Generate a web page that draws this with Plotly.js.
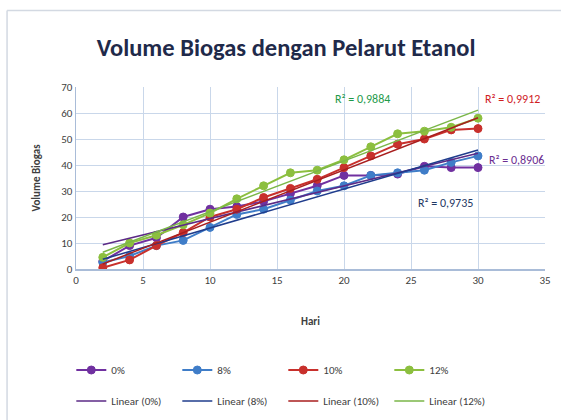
<!DOCTYPE html>
<html>
<head>
<meta charset="utf-8">
<script src="https://cdn.plot.ly/plotly-3.0.1.min.js"></script>
<style>html,body{margin:0;padding:0;background:#fff;} #chart{width:561px;height:420px;}</style>
</head>
<body>
<div id="chart"></div>
<script>
// Data
const hari = [2, 4, 6, 8, 10, 12, 14, 16, 18, 20, 22, 24, 26, 28, 30];
const seriesNames = ["0%", "8%", "10%", "12%"];
const v0  = [3, 9, 12, 20, 23, 24, 26, 29, 32, 36, 36, 36.5, 39.5, 39, 39];
const v8  = [2.5, 5, 9, 11, 16, 21, 23, 26.5, 30, 32, 36, 37, 38, 41, 43.5];
const v10 = [0.5, 3.5, 9, 14, 20, 23, 27.5, 31, 34.5, 39, 43.5, 48, 50, 53.5, 54];
const v12 = [4.5, 10, 13, 17, 21.5, 27, 32, 37, 38, 42, 47, 52, 53, 54.5, 58];
const r2Labels = ["R² = 0,8906", "R² = 0,9735", "R² = 0,9912", "R² = 0,9884"];
const xTicks = [0, 5, 10, 15, 20, 25, 30, 35];
const yTicks = [0, 10, 20, 30, 40, 50, 60, 70];

const seriesColors = ["#7030A0", "#3F7DC8", "#C8302C", "#8CBF3F"];
const trendColors  = ["#5B2A86", "#1F3C8C", "#A81E1E", "#7AB648"];
const r2Colors     = ["#6B2E91", "#1F3864", "#D0201E", "#1E9A4A"];

function linFit(x, y) {
  const n = x.length;
  const mx = x.reduce((a, b) => a + b, 0) / n;
  const my = y.reduce((a, b) => a + b, 0) / n;
  let sxy = 0, sxx = 0;
  for (let i = 0; i < n; i++) { sxy += (x[i] - mx) * (y[i] - my); sxx += (x[i] - mx) ** 2; }
  const b = sxy / sxx, a = my - b * mx;
  return x.map(v => a + b * v);
}

const allVals = [v0, v8, v10, v12];
const traces = [];
allVals.forEach((v, i) => {
  traces.push({
    x: hari, y: v, name: seriesNames[i], type: "scatter", mode: "lines+markers", legend: "legend",
    line: {color: seriesColors[i], width: 2},
    marker: {color: seriesColors[i], size: 8, line: {color: seriesColors[i], width: 1}}
  });
});
allVals.forEach((v, i) => {
  traces.push({
    x: hari, y: linFit(hari, v), name: "Linear (" + seriesNames[i] + ")", type: "scatter", mode: "lines", legend: "legend2",
    line: {color: trendColors[i], width: 1.5}
  });
});

const font = "Calibri, 'Liberation Sans Narrow', 'Open Sans', sans-serif";
const annPos = [
  {x: 30.7, y: 42, xanchor: "left"},
  {x: 25.4, y: 25.3, xanchor: "left"},
  {x: 30.4, y: 65.4, xanchor: "left"},
  {x: 19.2, y: 65.4, xanchor: "left"}
];
const annotations = r2Labels.map((t, i) => ({
  x: annPos[i].x, y: annPos[i].y, xref: "x", yref: "y", xanchor: annPos[i].xanchor, yanchor: "middle",
  text: t, showarrow: false, font: {family: font, size: 12, color: r2Colors[i]}
}));

const legendCommon = {
  orientation: "h", x: -0.01, xanchor: "left", yanchor: "middle",
  entrywidth: 61, entrywidthmode: "pixels",
  font: {family: font, size: 11, color: "#404040"}, itemwidth: 30, bgcolor: "rgba(0,0,0,0)"
};

const layout = {
  width: 561, height: 420,
  margin: {l: 76, r: 16, t: 87, b: 151, autoexpand: false},
  paper_bgcolor: "#ffffff", plot_bgcolor: "#ffffff",
  font: {family: font, size: 11, color: "#404040"},
  title: {text: "<b>Volume Biogas dengan Pelarut Etanol</b>", x: 0.448, xref: "paper", xanchor: "center", y: 0.888, yanchor: "middle",
          font: {family: font, size: 24.5, color: "#1F2A4A"}},
  xaxis: {
    range: [0, 35], tickvals: xTicks, ticktext: xTicks.map(String),
    showgrid: true, gridcolor: "#C9D7EA", gridwidth: 1,
    showline: true, linecolor: "#A9BCD8", linewidth: 1.5, zeroline: false,
    ticks: "", tickfont: {size: 11, color: "#404040"}, automargin: false,
    title: {text: "<b>Hari</b>", font: {size: 11, color: "#404040"}, standoff: 31}
  },
  yaxis: {
    range: [0, 70], tickvals: yTicks, ticktext: yTicks.map(String),
    showgrid: true, gridcolor: "#C9D7EA", gridwidth: 1,
    showline: true, linecolor: "#A9BCD8", linewidth: 1.5, zeroline: false,
    ticks: "", tickfont: {size: 11, color: "#404040"}, automargin: false,
    title: {text: "<b>Volume Biogas</b>", font: {size: 11, color: "#404040"}, standoff: 18}
  },
  legend: Object.assign({}, legendCommon, {y: -0.555}),
  legend2: Object.assign({}, legendCommon, {y: -0.725}),
  annotations: annotations,
  shapes: [
    {type: "line", xref: "paper", yref: "paper", x0: -0.147, x1: -0.147, y0: 1.42, y1: -1.0, line: {color: "#D3D9E2", width: 1.5}},
    {type: "line", xref: "paper", yref: "paper", x0: -0.147, x1: 1.05, y0: 1.42, y1: 1.42, line: {color: "#D3D9E2", width: 1.5}}
  ],
  showlegend: true
};

Plotly.newPlot("chart", traces, layout, {displayModeBar: false, staticPlot: true});
</script>
</body>
</html>
